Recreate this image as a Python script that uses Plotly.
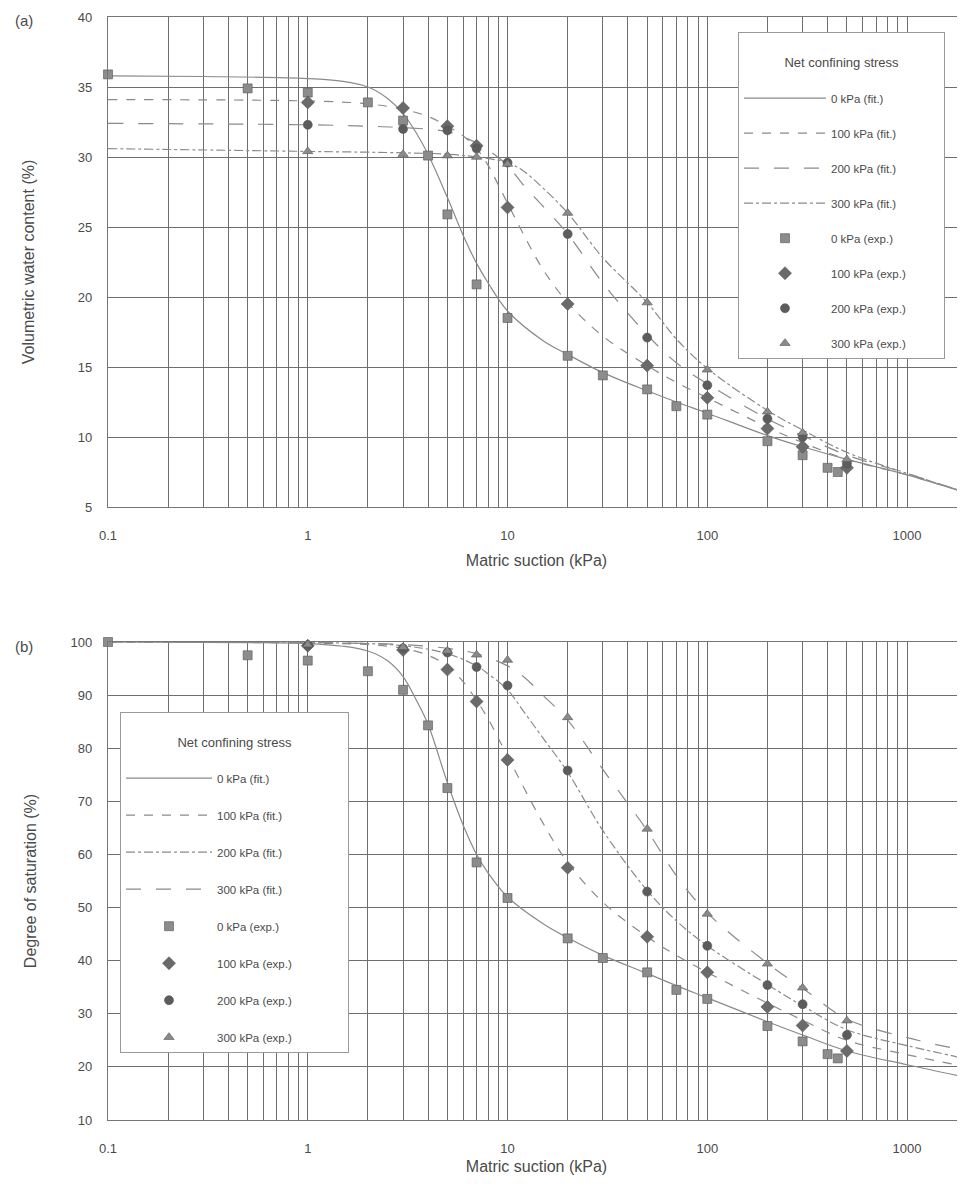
import plotly.graph_objects as go

# ---------------- data: panel (a) volumetric water content (%) ----------------
A_FIT0_X = [0.1, 0.3, 1, 1.5, 2, 2.5, 3, 3.5, 4, 5, 6, 7, 8, 10, 15, 20, 30, 50, 70, 100, 200, 300, 500, 1000, 2000]
A_FIT0_Y = [35.8, 35.75, 35.6, 35.4, 35.0, 34.2, 33.1, 31.7, 30.2, 27.1, 24.4, 22.4, 21.0, 19.0, 16.9, 15.9, 14.6, 13.3, 12.5, 11.7, 10.1, 9.3, 8.4, 7.3, 6.0]
A_FIT100_X = [0.1, 1, 2, 3, 4, 5, 6, 7, 8, 9, 10, 12, 15, 20, 30, 50, 70, 100, 200, 300, 500, 1000, 2000]
A_FIT100_Y = [34.1, 34.0, 33.8, 33.4, 32.9, 32.2, 31.5, 30.6, 29.4, 28.0, 26.7, 24.5, 22.0, 19.6, 17.2, 15.1, 13.9, 12.8, 10.7, 9.6, 8.4, 7.3, 6.0]
A_FIT200_X = [0.1, 1, 2, 3, 5, 7, 8, 10, 12, 15, 20, 30, 50, 70, 100, 200, 300, 500, 1000, 2000]
A_FIT200_Y = [32.4, 32.3, 32.2, 32.1, 31.8, 31.0, 30.5, 29.4, 28.0, 26.5, 24.5, 21.0, 17.3, 15.3, 13.8, 11.3, 10.1, 8.7, 7.4, 6.0]
A_FIT300_X = [0.1, 1, 3, 5, 7, 10, 12, 15, 20, 30, 50, 70, 100, 200, 300, 500, 1000, 2000]
A_FIT300_Y = [30.6, 30.4, 30.3, 30.2, 30.0, 29.6, 29.0, 27.8, 26.0, 22.8, 19.6, 17.0, 14.9, 11.9, 10.5, 8.9, 7.4, 6.0]

A_EXP0_X = [0.1, 0.5, 1, 2, 3, 4, 5, 7, 10, 20, 30, 50, 70, 100, 200, 300, 400, 450]
A_EXP0_Y = [35.9, 34.9, 34.6, 33.9, 32.6, 30.1, 25.9, 20.9, 18.5, 15.8, 14.4, 13.4, 12.2, 11.6, 9.7, 8.7, 7.8, 7.5]
A_EXP_X = [1, 3, 5, 7, 10, 20, 50, 100, 200, 300, 500]
A_EXP100_Y = [33.9, 33.5, 32.2, 30.8, 26.4, 19.5, 15.1, 12.8, 10.6, 9.3, 7.8]
A_EXP200_Y = [32.3, 32.0, 31.9, 30.6, 29.6, 24.5, 17.1, 13.7, 11.3, 10.0, 8.1]
A_EXP300_Y = [30.4, 30.2, 30.1, 30.0, 29.5, 26.0, 19.6, 14.8, 11.8, 10.3, 8.4]

# ---------------- data: panel (b) degree of saturation (%) ----------------
B_FIT0_X = [0.1, 0.5, 1, 1.5, 2, 2.5, 3, 3.5, 4, 5, 6, 7, 8, 10, 15, 20, 30, 50, 70, 100, 200, 300, 500, 1000, 2000]
B_FIT0_Y = [100, 99.9, 99.7, 99.2, 98.3, 96.5, 93.5, 89.0, 84.5, 73.5, 65.5, 60.0, 56.5, 52.0, 47.0, 44.3, 41.0, 37.6, 35.3, 33.0, 28.5, 26.0, 23.0, 20.4, 18.0]
B_FIT100_X = [0.1, 1, 2, 3, 4, 5, 6, 7, 8, 10, 15, 20, 30, 50, 70, 100, 200, 300, 500, 1000, 2000]
B_FIT100_Y = [100, 99.8, 99.5, 98.8, 97.5, 95.5, 92.5, 89.0, 85.5, 78.5, 66.0, 58.5, 51.0, 44.5, 41.0, 37.8, 32.0, 28.8, 25.0, 22.3, 20.0]
B_FIT200_X = [0.1, 1, 3, 5, 7, 8, 10, 12, 15, 20, 30, 50, 70, 100, 200, 300, 500, 1000, 2000]
B_FIT200_Y = [100, 99.9, 99.3, 97.8, 95.5, 94.0, 91.0, 87.0, 82.0, 75.5, 64.5, 53.2, 47.5, 42.8, 35.5, 31.5, 27.0, 24.0, 21.5]
B_FIT300_X = [0.1, 1, 3, 5, 7, 10, 12, 15, 20, 30, 50, 70, 100, 200, 300, 500, 1000, 2000]
B_FIT300_Y = [100, 99.9, 99.5, 98.8, 97.8, 95.5, 93.5, 90.0, 85.3, 76.0, 64.5, 56.0, 49.0, 39.5, 34.8, 29.0, 25.5, 23.0]

B_EXP0_X = [0.1, 0.5, 1, 2, 3, 4, 5, 7, 10, 20, 30, 50, 70, 100, 200, 300, 400, 450]
B_EXP0_Y = [100, 97.5, 96.5, 94.5, 91.0, 84.3, 72.5, 58.5, 51.8, 44.2, 40.5, 37.8, 34.5, 32.8, 27.7, 24.8, 22.4, 21.6]
B_EXP_X = [1, 3, 5, 7, 10, 20, 50, 100, 200, 300, 500]
B_EXP100_Y = [99.3, 98.5, 94.8, 88.8, 77.8, 57.5, 44.5, 37.8, 31.3, 27.8, 23.0]
B_EXP200_Y = [99.4, 98.8, 98.0, 95.3, 91.8, 75.8, 53.0, 42.8, 35.4, 31.8, 26.0]
B_EXP300_Y = [99.5, 99.0, 98.3, 97.6, 96.6, 85.8, 64.8, 48.8, 39.4, 34.9, 28.7]

STRESS_LABELS = ["0 kPa", "100 kPa", "200 kPa", "300 kPa"]
LEGEND_TITLE = "Net confining stress"
X_TICKS = [0.1, 1, 10, 100, 1000]
X_TICK_TEXT = ["0.1", "1", "10", "100", "1000"]
A_Y_TICKS = [5, 10, 15, 20, 25, 30, 35, 40]
B_Y_TICKS = [10, 20, 30, 40, 50, 60, 70, 80, 90, 100]

# ---------------- layout helpers (page body has an 8 px margin) ----------------
OFF = 8
WIN_W, WIN_H = 965, 1186
W, H = WIN_W - OFF, WIN_H - OFF
ML, MR, MT, MB = 108 - OFF, 0, 17 - OFF, 66
PW, PH = W - ML - MR, H - MT - MB


def pxx(x):
    # screen x (reference pixels) -> paper fraction
    return (x - OFF - ML) / PW


def pxy(y):
    # screen y (reference pixels) -> paper fraction
    return (H - MB - (y - OFF)) / PH


def legend_title(pad):
    sp = "\u00a0" * pad
    return f"<br>{sp}{LEGEND_TITLE}{sp}<br> "


FONT = "Liberation Sans, Arial, Helvetica, sans-serif"
TXT = "#4a4a4a"
LINE_C = "#8a8a8a"
GRID_C = "#6e6e6e"

minor_vals = [m * 10 ** e for e in range(-1, 4) for m in range(2, 10)]

fig = go.Figure()

a_dash = ["solid", "dash", "longdash", "dashdot"]
b_dash = ["solid", "dash", "dashdot", "longdash"]
markers = [("square", "#8c8c8c", 9), ("diamond", "#6a6a6a", 10), ("circle", "#5c5c5c", 9), ("triangle-up", "#8a8a8a", 9)]

a_fits = [(A_FIT0_X, A_FIT0_Y), (A_FIT100_X, A_FIT100_Y), (A_FIT200_X, A_FIT200_Y), (A_FIT300_X, A_FIT300_Y)]
a_exps = [(A_EXP0_X, A_EXP0_Y), (A_EXP_X, A_EXP100_Y), (A_EXP_X, A_EXP200_Y), (A_EXP_X, A_EXP300_Y)]
b_fits = [(B_FIT0_X, B_FIT0_Y), (B_FIT100_X, B_FIT100_Y), (B_FIT200_X, B_FIT200_Y), (B_FIT300_X, B_FIT300_Y)]
b_exps = [(B_EXP0_X, B_EXP0_Y), (B_EXP_X, B_EXP100_Y), (B_EXP_X, B_EXP200_Y), (B_EXP_X, B_EXP300_Y)]

for panel, fits, exps, dashes, xa, ya, leg in [
    ("a", a_fits, a_exps, a_dash, "x", "y", "legend"),
    ("b", b_fits, b_exps, b_dash, "x2", "y2", "legend2"),
]:
    for i, (xs, ys) in enumerate(fits):
        fig.add_trace(go.Scatter(
            x=xs, y=ys, mode="lines", name=f"{STRESS_LABELS[i]} (fit.)",
            line=dict(color=LINE_C, width=1.2, dash=dashes[i], shape="spline", smoothing=1.0),
            xaxis=xa, yaxis=ya, legend=leg, legendgroup=f"{panel}f{i}",
        ))
    for i, (xs, ys) in enumerate(exps):
        sym, col, sz = markers[i]
        fig.add_trace(go.Scatter(
            x=xs, y=ys, mode="markers", name=f"{STRESS_LABELS[i]} (exp.)",
            marker=dict(symbol=sym, color=col, size=sz, line=dict(color="#555555", width=0.6)),
            cliponaxis=False,
            xaxis=xa, yaxis=ya, legend=leg, legendgroup=f"{panel}e{i}",
        ))

axis_common = dict(
    showgrid=True, gridcolor=GRID_C, gridwidth=1,
    showline=True, linecolor="#777777", linewidth=1.3,
    ticks="", tickfont=dict(family=FONT, size=13, color=TXT),
    zeroline=False,
)

x_common = dict(
    axis_common, type="log", range=[-1, 3.29],
    tickvals=X_TICKS, ticktext=X_TICK_TEXT, mirror=True,
    minor=dict(tickvals=minor_vals, showgrid=True, gridcolor=GRID_C, gridwidth=1, ticks=""),
    ticklabelstandoff=16,
)

legend_common = dict(
    bgcolor="white", bordercolor="#999999", borderwidth=1,
    font=dict(family=FONT, size=11.5, color=TXT),
    traceorder="grouped", xanchor="left", yanchor="top",
)

title_font = dict(family=FONT, size=13, color=TXT)

fig.update_layout(
    width=W, height=H,
    margin=dict(l=ML, r=MR, t=MT, b=MB),
    paper_bgcolor="white", plot_bgcolor="white",
    font=dict(family=FONT, color=TXT),
    showlegend=True,
    xaxis=dict(x_common, anchor="y", domain=[0, 1],
               title=dict(text="Matric suction (kPa)", font=dict(family=FONT, size=16, color=TXT), standoff=13)),
    yaxis=dict(axis_common, anchor="x", domain=[pxy(507), 1.0], range=[5, 40], tickvals=A_Y_TICKS,
               ticklabelstandoff=12,
               title=dict(text="Volumetric water content (%)", font=dict(family=FONT, size=16, color=TXT), standoff=39)),
    xaxis2=dict(x_common, anchor="y2", domain=[0, 1],
                title=dict(text="Matric suction (kPa)", font=dict(family=FONT, size=16, color=TXT), standoff=6)),
    yaxis2=dict(axis_common, anchor="x2", domain=[0, pxy(642)], range=[10, 100], tickvals=B_Y_TICKS,
                ticklabelstandoff=12,
                title=dict(text="Degree of saturation (%)", font=dict(family=FONT, size=16, color=TXT), standoff=29)),
    legend=dict(legend_common, x=pxx(738), y=pxy(32), tracegroupgap=16, itemwidth=82,
                title=dict(text=legend_title(12), side="top center", font=title_font)),
    legend2=dict(legend_common, x=pxx(120), y=pxy(712), tracegroupgap=18, itemwidth=86,
                 title=dict(text=legend_title(15), side="top center", font=title_font)),
    annotations=[
        dict(text="(a)", x=pxx(24), y=pxy(20), xref="paper", yref="paper", showarrow=False,
             xanchor="center", yanchor="middle", font=dict(family=FONT, size=15, color=TXT)),
        dict(text="(b)", x=pxx(24), y=pxy(646), xref="paper", yref="paper", showarrow=False,
             xanchor="center", yanchor="middle", font=dict(family=FONT, size=15, color=TXT)),
    ],
)

fig.write_html("out.html")
